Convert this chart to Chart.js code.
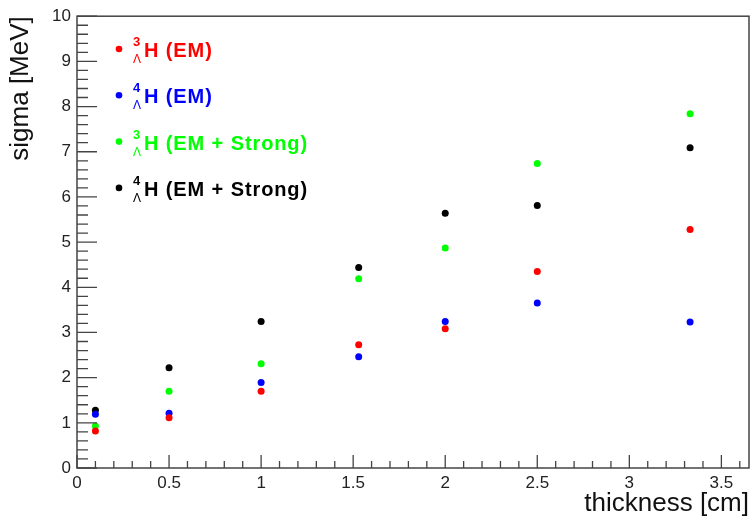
<!DOCTYPE html>
<html>
<head>
<meta charset="utf-8">
<script src="https://cdn.jsdelivr.net/npm/chart.js@4.4.0/dist/chart.umd.min.js"></script>
<style>
  html, body { margin: 0; padding: 0; background: #fff; }
  #wrap { width: 753px; height: 520px; }
</style>
</head>
<body>
<div id="wrap"><canvas id="chart" width="753" height="520"></canvas></div>
<script>
// thickness values [cm]
const thickness = [0.1, 0.5, 1.0, 1.53, 2.0, 2.5, 3.33];

// sigma [MeV] per series
const h3EM = [0.82, 1.11, 1.70, 2.73, 3.08, 4.35, 5.28];
const h4EM = [1.19, 1.21, 1.89, 2.46, 3.24, 3.65, 3.23];
const h3EMStrong = [0.93, 1.70, 2.31, 4.19, 4.87, 6.74, 7.84];
const h4EMStrong = [1.28, 2.22, 3.24, 4.44, 5.64, 5.81, 7.09];

const xTickValues = [0, 0.5, 1, 1.5, 2, 2.5, 3, 3.5];
const yTickValues = [0, 1, 2, 3, 4, 5, 6, 7, 8, 9, 10];

const seriesMass = ['3', '4', '3', '4'];
const seriesText = ['H (EM)', 'H (EM)', 'H (EM + Strong)', 'H (EM + Strong)'];
const seriesColors = ['#ff0000', '#0000ff', '#00ff00', '#000000'];
const seriesValues = [h3EM, h4EM, h3EMStrong, h4EMStrong];

const FONT = '"Liberation Sans", Arial, Helvetica, sans-serif';

const toPoints = (vals) => thickness.map((x, i) => ({ x, y: vals[i] }));

// ROOT-like frame with inward ticks, plus the legend with super/subscripts
const rootFrame = {
    id: 'rootFrame',
    afterDraw(chart) {
        const { ctx, chartArea: a, scales } = chart;
        const xs = scales.x, ys = scales.y;
        ctx.save();
        ctx.strokeStyle = '#444';
        ctx.lineWidth = 1.5;
        ctx.strokeRect(a.left, a.top, a.right - a.left, a.bottom - a.top);

        ctx.lineWidth = 1.3;
        ctx.beginPath();
        for (let i = 0; i <= 36; i++) {
            const px = xs.getPixelForValue(i / 10);
            const len = i % 5 === 0 ? 13 : 7;
            ctx.moveTo(px, a.bottom);
            ctx.lineTo(px, a.bottom - len);
        }
        for (let i = 0; i <= 50; i++) {
            const py = ys.getPixelForValue(i / 5);
            const len = i % 5 === 0 ? 20 : 11;
            ctx.moveTo(a.left, py);
            ctx.lineTo(a.left + len, py);
        }
        ctx.stroke();

        // legend
        for (let i = 0; i < seriesText.length; i++) {
            const y = 49 + i * 46.3;
            ctx.fillStyle = seriesColors[i];
            ctx.beginPath();
            ctx.arc(119, y, 3.3, 0, Math.PI * 2);
            ctx.fill();

            ctx.textAlign = 'left';
            ctx.textBaseline = 'alphabetic';
            ctx.font = 'bold 13px ' + FONT;
            ctx.fillText(seriesMass[i], 133, y - 3);
            ctx.font = '12px ' + FONT;
            ctx.fillText('Λ', 133, y + 14);
            ctx.font = 'bold 20px ' + FONT;
            ctx.letterSpacing = '0.9px';
            ctx.fillText(seriesText[i], 144, y + 8);
            ctx.letterSpacing = '0px';
        }
        ctx.restore();
    }
};

new Chart(document.getElementById('chart').getContext('2d'), {
    type: 'scatter',
    data: {
        datasets: seriesValues.map((vals, i) => ({
            label: seriesMass[i] + seriesText[i],
            data: toPoints(vals),
            backgroundColor: seriesColors[i],
            borderColor: seriesColors[i],
            borderWidth: 0,
            pointRadius: 3.5,
        }))
    },
    options: {
        responsive: false,
        animation: false,
        layout: { padding: { left: 0, right: 2, top: 12, bottom: 0 } },
        plugins: {
            legend: { display: false },
            tooltip: { enabled: false }
        },
        scales: {
            x: {
                type: 'linear',
                min: 0,
                max: 3.65,
                grid: { display: false, drawTicks: false },
                border: { display: false },
                afterBuildTicks: (s) => { s.ticks = xTickValues.map(v => ({ value: v })); },
                afterFit: (s) => { s.height = 52; },
                ticks: {
                    padding: 5,
                    autoSkip: false,
                    maxRotation: 0,
                    color: '#222',
                    font: { family: FONT, size: 17 },
                    callback: (v) => String(v)
                },
                title: {
                    display: true,
                    text: 'thickness [cm]',
                    align: 'end',
                    color: '#111',
                    font: { family: FONT, size: 26 },
                    padding: { top: 0, bottom: 1 }
                }
            },
            y: {
                type: 'linear',
                min: 0,
                max: 10,
                grid: { display: false, drawTicks: false },
                border: { display: false },
                afterBuildTicks: (s) => { s.ticks = yTickValues.map(v => ({ value: v })); },
                afterFit: (s) => { s.width = 77; },
                ticks: {
                    padding: 6,
                    autoSkip: false,
                    color: '#222',
                    font: { family: FONT, size: 17 },
                    callback: (v) => String(v)
                },
                title: {
                    display: true,
                    text: 'sigma [MeV]',
                    align: 'end',
                    color: '#111',
                    font: { family: FONT, size: 26 },
                    padding: { top: 5, bottom: 0 }
                }
            }
        }
    },
    plugins: [rootFrame]
});
</script>
</body>
</html>
